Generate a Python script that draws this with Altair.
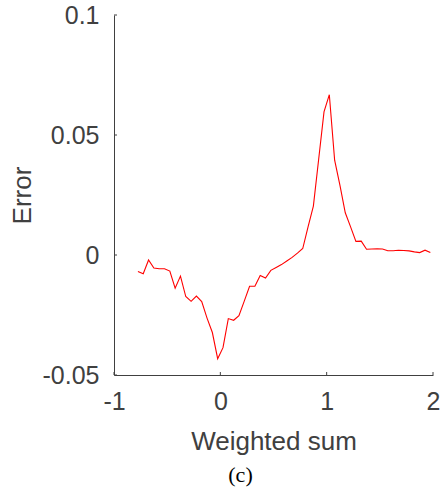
import altair as alt
import pandas as pd

x_vals = [-0.775, -0.725, -0.675, -0.625, -0.575, -0.525, -0.475, -0.425, -0.375, -0.325,
          -0.275, -0.225, -0.175, -0.125, -0.075, -0.025, 0.025, 0.075, 0.125, 0.175,
          0.225, 0.275, 0.325, 0.375, 0.425, 0.475, 0.525, 0.575, 0.625, 0.675,
          0.725, 0.775, 0.825, 0.875, 0.925, 0.975, 1.025, 1.075, 1.125, 1.175,
          1.225, 1.275, 1.325, 1.375, 1.425, 1.475, 1.525, 1.575, 1.625, 1.675,
          1.725, 1.775, 1.825, 1.875, 1.925, 1.975]
err_vals = [-0.0069, -0.0078, -0.0021, -0.0054, -0.0057, -0.0057, -0.0067, -0.0138, -0.0088, -0.0173,
            -0.0193, -0.0171, -0.0194, -0.0263, -0.0323, -0.0432, -0.0386, -0.0265, -0.0272, -0.0253,
            -0.0192, -0.0130, -0.0130, -0.0085, -0.0096, -0.0064, -0.0052, -0.0040, -0.0025, -0.0010,
            0.0008, 0.0027, 0.0117, 0.0204, 0.0400, 0.0596, 0.0668, 0.0395, 0.0290, 0.0176,
            0.0117, 0.0057, 0.0058, 0.0024, 0.0025, 0.0026, 0.0025, 0.0018, 0.0018, 0.0020,
            0.0019, 0.0017, 0.0013, 0.0010, 0.0020, 0.0010]

x_ticks = [-1, 0, 1, 2]
y_ticks = [-0.05, 0, 0.05, 0.1]
x_domain = [-1, 2]
y_domain = [-0.05, 0.1]

df = pd.DataFrame({"x": x_vals, "err": err_vals})
xt = pd.DataFrame({"t": x_ticks})
yt = pd.DataFrame({"t": y_ticks})

GREY = "#404040"
FONT = "Liberation Sans"

xscale = alt.Scale(domain=x_domain, nice=False, zero=False)
yscale = alt.Scale(domain=y_domain, nice=False, zero=False)

line = alt.Chart(df).mark_line(color="#ff0000", strokeWidth=1.1).encode(
    x=alt.X("x:Q", scale=xscale, title="Weighted sum",
            axis=alt.Axis(values=x_ticks, ticks=False, grid=False, labelPadding=14,
                          labelExpr="'' + datum.value", labelFlush=False,
                          labelFont=FONT, labelFontSize=25, labelColor=GREY,
                          titleFont=FONT, titleFontSize=26, titleFontWeight="normal",
                          titleColor=GREY, domainColor=GREY, domainWidth=1,
                          titleY=74, titleBaseline="alphabetic")),
    y=alt.Y("err:Q", scale=yscale, title="Error",
            axis=alt.Axis(values=y_ticks, ticks=False, grid=False, labelPadding=15,
                          labelExpr="'' + datum.value", labelFlush=False,
                          labelFont=FONT, labelFontSize=25, labelColor=GREY,
                          titleFont=FONT, titleFontSize=26, titleFontWeight="normal",
                          titleColor=GREY, domainColor=GREY, domainWidth=1,
                          titleX=-92, titleY=180, titleAngle=-90,
                          titleAlign="center", titleBaseline="middle")),
)

xtick_marks = alt.Chart(xt).mark_rule(color=GREY, strokeWidth=1).encode(
    x=alt.X("t:Q", scale=xscale), y=alt.value(360), y2=alt.value(357)
)
ytick_marks = alt.Chart(yt).mark_rule(color=GREY, strokeWidth=1).encode(
    y=alt.Y("t:Q", scale=yscale), x=alt.value(0), x2=alt.value(3)
)

chart = alt.layer(line, xtick_marks, ytick_marks).properties(
    width=319, height=360,
    title=alt.TitleParams("(c)", orient="bottom", anchor="middle", dx=-33, offset=11,
                          font="Liberation Serif", fontSize=22, fontWeight="normal",
                          color="#000000"),
    autosize=alt.AutoSizeParams(type="none"),
    padding={"left": 114, "top": 15, "right": 12, "bottom": 122},
).configure_view(stroke=None)

chart.save("out.html", embed_options={"renderer": "svg", "actions": False})
